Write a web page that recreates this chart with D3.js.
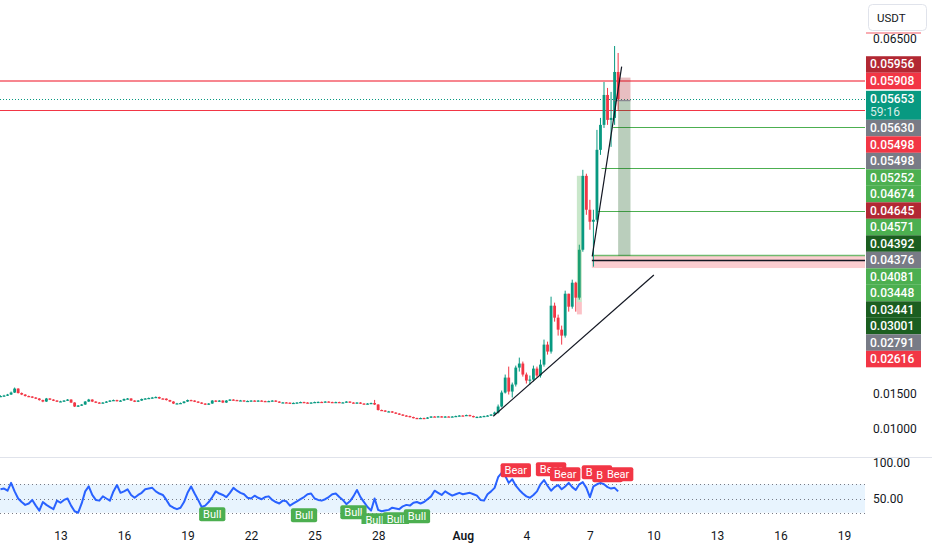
<!DOCTYPE html>
<html><head><meta charset="utf-8">
<script src="https://cdn.jsdelivr.net/npm/d3@7"></script>
<style>
body{margin:0;background:#fff;overflow:hidden}
svg{display:block;font-family:Roboto,"Noto Sans",sans-serif}
</style></head>
<body><svg id="c" width="932" height="550"></svg>
<script>
// ---------------- DATA ----------------
const candleStart = "2025-07-10T04:00:00Z";
const candleHours = 4;
const firstOpen = 0.01458;
const closes = [
.01465,.01472,.01486,.01514,.01570,.01507,.01486,.01465,.01458,.01444,
.01430,.01408,.01387,.01430,.01415,.01401,.01387,.01390,.01401,.01415,
.01373,.01317,.01331,.01345,.01387,.01415,.01387,.01373,.01366,.01373,
.01387,.01401,.01408,.01394,.01401,.01423,.01430,.01401,.01387,.01401,
.01423,.01430,.01437,.01444,.01451,.01430,.01428,.01408,.01387,.01359,
.01361,.01366,.01387,.01408,.01401,.01387,.01373,.01359,.01345,.01359,
.01401,.01387,.01401,.01373,.01401,.01415,.01408,.01401,.01403,.01394,
.01396,.01401,.01394,.01401,.01394,.01387,.01394,.01401,.01387,.01373,
.01375,.01371,.01366,.01368,.01373,.01380,.01373,.01366,.01373,.01380,
.01382,.01378,.01387,.01380,.01373,.01380,.01373,.01375,.01387,.01373,
.01366,.01373,.01359,.01352,.01359,.01366,.01345,.01268,.01261,.01246,
.01248,.01232,.01218,.01204,.01190,.01183,.01169,.01155,.01148,.01155,
.01148,.01162,.01176,.01174,.01178,.01169,.01176,.01174,.01176,.01183,
.01190,.01188,.01197,.01183,.01169,.01171,.01176,.01183,.01190,.01204,
.01232,.01317,.01514,.01725,.01528,.01627,.01866,.01923,.01768,.01683,
.01697,.01852,.01754,.01908,.02190,.02092,.02739,.02570,.02401,.02317,
.02908,.02725,.03063,.02852,.03528,.04570,.04092,.03923,.03951,.04937,
.05289,.05711,.05359,.05387,.06035,.05653];
const highs = [
.01475,.01482,.01495,.01528,.01585,.01575,.01515,.01492,.01472,.01463,
.01450,.01436,.01414,.01438,.01437,.01420,.01408,.01398,.01408,.01422,
.01420,.01378,.01338,.01352,.01394,.01425,.01420,.01392,.01380,.01380,
.01394,.01408,.01415,.01413,.01408,.01430,.01437,.01435,.01406,.01408,
.01430,.01437,.01444,.01452,.01460,.01456,.01436,.01432,.01412,.01392,
.01368,.01373,.01394,.01415,.01414,.01406,.01392,.01378,.01364,.01366,
.01408,.01406,.01408,.01406,.01408,.01422,.01420,.01413,.01410,.01408,
.01402,.01407,.01406,.01407,.01406,.01399,.01400,.01407,.01406,.01392,
.01381,.01380,.01376,.01374,.01379,.01386,.01385,.01378,.01379,.01386,
.01388,.01387,.01393,.01392,.01385,.01386,.01385,.01381,.01393,.01392,
.01378,.01379,.01378,.01364,.01365,.01372,.01410,.01350,.01274,.01266,
.01255,.01253,.01237,.01223,.01209,.01196,.01188,.01174,.01160,.01161,
.01160,.01168,.01182,.01181,.01184,.01183,.01182,.01181,.01182,.01189,
.01196,.01195,.01203,.01202,.01188,.01177,.01182,.01189,.01196,.01210,
.01245,.01345,.01542,.01768,.01880,.01655,.01894,.02007,.01951,.01796,
.01754,.01894,.01880,.01979,.02261,.02232,.02866,.02782,.02613,.02458,
.02951,.02880,.03106,.03077,.03599,.04655,.04600,.04232,.04092,.05218,
.05387,.05894,.05810,.05754,.06401,.06303];
const lows = [
.01450,.01458,.01466,.01480,.01508,.01500,.01478,.01458,.01450,.01436,
.01422,.01400,.01378,.01382,.01408,.01394,.01380,.01380,.01384,.01395,
.01366,.01310,.01310,.01325,.01340,.01382,.01380,.01366,.01360,.01360,
.01368,.01382,.01395,.01388,.01388,.01396,.01417,.01395,.01380,.01382,
.01396,.01418,.01424,.01430,.01438,.01424,.01420,.01402,.01380,.01352,
.01352,.01355,.01360,.01382,.01394,.01380,.01366,.01352,.01338,.01340,
.01354,.01380,.01382,.01366,.01368,.01396,.01402,.01395,.01396,.01388,
.01389,.01390,.01388,.01389,.01388,.01381,.01382,.01389,.01381,.01367,
.01368,.01365,.01360,.01361,.01362,.01368,.01367,.01360,.01361,.01368,
.01375,.01372,.01373,.01375,.01367,.01368,.01367,.01368,.01370,.01367,
.01360,.01361,.01353,.01346,.01347,.01353,.01338,.01260,.01254,.01240,
.01240,.01226,.01212,.01198,.01184,.01177,.01163,.01149,.01142,.01143,
.01141,.01143,.01157,.01169,.01169,.01163,.01164,.01169,.01169,.01171,
.01178,.01183,.01183,.01177,.01163,.01164,.01166,.01171,.01178,.01185,
.01198,.01218,.01303,.01500,.01486,.01444,.01599,.01810,.01739,.01641,
.01627,.01669,.01725,.01725,.01880,.02049,.02063,.02514,.02317,.02190,
.02289,.02655,.02697,.02655,.02824,.03500,.04021,.03810,.03289,.03923,
.04866,.05246,.05289,.04979,.05289,.05500];
const rsi = [
63,64,61,72,60,50,45,41,43,48,
40,33,45,41,38,35,47,44,48,50,
40,32,30,43,60,67,55,48,47,53,
50,47,60,69,58,60,63,55,51,55,
58,63,64,65,60,57,55,48,40,37,
35,37,45,58,67,57,48,38,40,45,
52,60,57,55,52,58,65,61,58,56,
51,50,54,51,49,52,53,48,45,43,
47,46,40,43,46,49,52,56,57,50,
48,47,49,52,56,57,52,48,42,46,
53,62,52,45,38,33,50,34,32,33,
34,37,36,35,39,41,40,44,45,43,
45,49,53,61,58,55,60,57,54,56,
58,56,57,58,56,54,48,47,56,60,
65,80,86,82,72,77,68,62,57,53,
51,55,60,70,76,68,61,66,69,63,
67,72,66,62,70,73,65,52,67,70,
72,70,66,64,65,60];

const priceTicks = [0.010,0.015,0.020,0.025,0.030,0.035,0.040,0.045,0.050,0.055,0.060,0.065];
const axisLabelValues = [0.05956,0.05908,0.05653,0.05630,0.05498,0.05498,0.05252,0.04674,0.04645,0.04571,0.04392,0.04376,0.04081,0.03448,0.03441,0.03001,0.02791,0.02616];
const axisLabelKinds  = ["stop","line","last","entry","line","entry","ray","ray","stop","ray","target","entry","ray","ray","target","target","entry","line"];
const countdown = "59:16";
const currency = "USDT";
const topMarkPrice = 0.06585;
const timeTicks = ["2025-07-13","2025-07-16","2025-07-19","2025-07-22","2025-07-25","2025-07-28","2025-08-01","2025-08-04","2025-08-07","2025-08-10","2025-08-13","2025-08-16","2025-08-19"];
const rsiLevels = [70,50,30];
const rsiTicks = [100,50];
const bullIdx = [60,86,100,106,112,118];
const bullAt  = [37.7,36.3,40.6,29.3,30.7,35];
const bearIdx = [146,156,160,169,172,175];
const bearAt  = [80,81.4,74.4,77.2,73,74.4];
const hLinePrices = [0.05908,0.05498];
const rayPrices = [0.05252,0.04674,0.04081];
const rayStarts = ["2025-08-08T02:20:00Z","2025-08-07T13:10:00Z","2025-08-07T09:00:00Z"];
const zoneStart = "2025-08-07T02:15:00Z";
const zonePrices = [0.03448,0.03376,0.03270]; // top line, mid line, bottom
const shortPos = {start:"2025-08-08T08:00:00Z", end:"2025-08-08T22:00:00Z", entry:0.05630, stop:0.05956, target:0.03441};
const longPos  = {start:"2025-08-06T09:15:00Z", end:"2025-08-06T14:55:00Z", entry:0.02791, stop:0.02616, target:0.04571};
const trendLines = [
  [["2025-08-02T10:30:00Z",0.01180],["2025-08-10T00:30:00Z",0.03172]],
  [["2025-08-07T02:40:00Z",0.03434],["2025-08-08T12:00:00Z",0.06110]]
];

// ---------------- LAYOUT / STYLE ----------------
const plotR = 865, mainBot = 457, rsiTop = 458, rsiBot = 524;
const C = {up:"#089981", down:"#f23645", text:"#131722", grayLbl:"#787b86",
  red:"#f23645", green:"#4caf50", darkGreen:"#1b5e20", darkRed:"#b22833"};
const kindColor = {stop:C.darkRed, line:C.red, last:C.up, entry:C.grayLbl, ray:C.green, target:C.darkGreen};

const svg = d3.select("#c");
const parse = s => new Date(s);
const x = d3.scaleUtc().domain([new Date(Date.UTC(2025,6,13)), new Date(Date.UTC(2025,7,19))]).range([60.5, 844]);
const y = d3.scaleLinear().domain([0.010, 0.065]).range([429, 39]);
const yr = d3.scaleLinear().domain([30, 70]).range([512.7, 484.3]);

const t0 = parse(candleStart).getTime();
const candles = closes.map((c,i)=>{
  const o = i===0 ? firstOpen : closes[i-1];
  return {t:new Date(t0 + i*candleHours*3600e3), o, c, h:Math.max(highs[i],o,c), l:Math.min(lows[i],o,c), r:rsi[i]};
});

const defs = svg.append("defs");
defs.append("clipPath").attr("id","mainClip").append("rect").attr("x",0).attr("y",0).attr("width",plotR).attr("height",mainBot);
defs.append("clipPath").attr("id","rsiClip").append("rect").attr("x",0).attr("y",rsiTop).attr("width",plotR).attr("height",rsiBot-rsiTop);

// ---------- main pane ----------
const main = svg.append("g").attr("clip-path","url(#mainClip)");

main.append("line").attr("x1",0).attr("x2",plotR).attr("y1",y(hLinePrices[0])).attr("y2",y(hLinePrices[0]))
  .attr("stroke",C.red).attr("stroke-opacity",0.6).attr("stroke-width",2);
main.append("line").attr("x1",0).attr("x2",plotR).attr("y1",Math.round(y(hLinePrices[1]))+0.5).attr("y2",Math.round(y(hLinePrices[1]))+0.5)
  .attr("stroke",C.red).attr("stroke-width",1);
main.append("line").attr("x1",0).attr("x2",plotR).attr("y1",Math.round(y(closes[closes.length-1]))+0.5).attr("y2",Math.round(y(closes[closes.length-1]))+0.5)
  .attr("stroke",C.up).attr("stroke-width",1).attr("stroke-dasharray","1,2");

rayPrices.forEach((p,i)=>{
  const yy = Math.round(y(p))+0.5;
  main.append("line").attr("x1",x(parse(rayStarts[i]))).attr("x2",plotR).attr("y1",yy).attr("y2",yy)
    .attr("stroke",C.green).attr("stroke-width",1);
});

const zx = x(parse(zoneStart));
main.append("rect").attr("x",zx).attr("width",plotR-zx).attr("y",y(zonePrices[0])).attr("height",y(zonePrices[2])-y(zonePrices[0]))
  .attr("fill",C.red).attr("fill-opacity",0.25);
main.append("line").attr("x1",zx).attr("x2",plotR).attr("y1",y(zonePrices[0])).attr("y2",y(zonePrices[0]))
  .attr("stroke",C.green).attr("stroke-opacity",0.8).attr("stroke-width",1.5);

// candles
const step = x(new Date(t0+candleHours*3600e3)) - x(new Date(t0));
const bw = Math.max(1, step*0.8);
const cg = main.append("g");
cg.selectAll("line.w").data(candles).join("line")
  .attr("x1",d=>x(d.t)).attr("x2",d=>x(d.t)).attr("y1",d=>y(d.h)).attr("y2",d=>y(d.l))
  .attr("stroke",d=>d.c>=d.o?C.up:C.down).attr("stroke-width",1);
cg.selectAll("rect").data(candles).join("rect")
  .attr("x",d=>x(d.t)-bw/2).attr("width",bw)
  .attr("y",d=>y(Math.max(d.o,d.c))).attr("height",d=>Math.max(1.2, Math.abs(y(d.o)-y(d.c))))
  .attr("fill",d=>d.c>=d.o?C.up:C.down);

main.append("line").attr("x1",zx).attr("x2",plotR).attr("y1",y(zonePrices[1])).attr("y2",y(zonePrices[1]))
  .attr("stroke","#131722").attr("stroke-width",1.5);

{
  const x1=x(parse(longPos.start)), x2=x(parse(longPos.end));
  main.append("rect").attr("x",x1).attr("width",x2-x1).attr("y",y(longPos.target)).attr("height",y(longPos.entry)-y(longPos.target))
    .attr("fill",C.green).attr("fill-opacity",0.3);
  main.append("rect").attr("x",x1).attr("width",x2-x1).attr("y",y(longPos.entry)).attr("height",y(longPos.stop)-y(longPos.entry))
    .attr("fill",C.red).attr("fill-opacity",0.3);
}
{
  const x1=x(parse(shortPos.start)), x2=x(parse(shortPos.end));
  main.append("rect").attr("x",x1).attr("width",x2-x1).attr("y",y(shortPos.stop)).attr("height",y(shortPos.entry)-y(shortPos.stop))
    .attr("fill",C.darkRed).attr("fill-opacity",0.3);
  main.append("rect").attr("x",x1).attr("width",x2-x1).attr("y",y(shortPos.entry)).attr("height",y(shortPos.target)-y(shortPos.entry))
    .attr("fill",C.darkGreen).attr("fill-opacity",0.3);
  main.append("line").attr("x1",x1-5).attr("x2",x2).attr("y1",y(shortPos.entry)).attr("y2",y(shortPos.entry))
    .attr("stroke",C.grayLbl).attr("stroke-width",1);
}

trendLines.forEach(tl=>{
  main.append("line").attr("x1",x(parse(tl[0][0]))).attr("y1",y(tl[0][1])).attr("x2",x(parse(tl[1][0]))).attr("y2",y(tl[1][1]))
    .attr("stroke","#131722").attr("stroke-width",1.2);
});

svg.append("line").attr("x1",0).attr("x2",932).attr("y1",mainBot+0.5).attr("y2",mainBot+0.5).attr("stroke","#e0e3eb").attr("stroke-width",1);

// ---------- RSI pane ----------
const rp = svg.append("g").attr("clip-path","url(#rsiClip)");
rp.append("rect").attr("x",0).attr("width",plotR).attr("y",yr(70)).attr("height",yr(30)-yr(70)).attr("fill","#2196f3").attr("fill-opacity",0.1);
rsiLevels.forEach(v=>{
  rp.append("line").attr("x1",0).attr("x2",plotR).attr("y1",Math.round(yr(v))+0.5).attr("y2",Math.round(yr(v))+0.5)
    .attr("stroke","#787b86").attr("stroke-width",1).attr("stroke-dasharray","1,3");
});
rp.append("path").datum(candles).attr("fill","none").attr("stroke","#2962ff").attr("stroke-width",2).attr("stroke-linejoin","round")
  .attr("d", d3.line().x(d=>x(d.t)).y(d=>yr(d.r)));

function tag(idx, v, text, color, below){
  const cx = x(candles[idx].t);
  const g = rp.append("g");
  const t = g.append("text").attr("x",cx).attr("text-anchor","middle").attr("font-size",11).attr("fill","#fff").text(text);
  const w = t.node().getComputedTextLength()+8, h = 14;
  const top = below ? yr(v) : yr(v)-h;
  g.insert("rect","text").attr("x",cx-w/2).attr("y",top).attr("width",w).attr("height",h).attr("rx",2).attr("fill",color);
  t.attr("y",top+h/2).attr("dominant-baseline","central");
}
bullIdx.forEach((ix,i)=>tag(ix,bullAt[i],"Bull",C.green,true));
bearIdx.forEach((ix,i)=>tag(ix,bearAt[i],"Bear",C.red,false));

// ---------- price axis labels (stacked) ----------
const LH = 16.5, LH2 = 29;
const labels = axisLabelValues.map((v,i)=>({v, kind:axisLabelKinds[i], h: axisLabelKinds[i]==="last"?LH2:LH}));
const ai = labels.findIndex(d=>d.kind==="last");
labels[ai].top = y(labels[ai].v) - LH/2;
let limit = labels[ai].top;
for(let i=ai-1;i>=0;i--){ let c = Math.min(y(labels[i].v), limit - labels[i].h/2); labels[i].top = c - labels[i].h/2; limit = labels[i].top; }
limit = labels[ai].top + labels[ai].h;
for(let i=ai+1;i<labels.length;i++){ let c = Math.max(y(labels[i].v), limit + labels[i].h/2); labels[i].top = c - labels[i].h/2; limit = labels[i].top + labels[i].h; }

const fmt = d3.format(".5f");
const visTicks = priceTicks.filter(p=>{ const yy=y(p); return yy>30 && yy<mainBot-8 && !labels.some(l=>yy>l.top-6 && yy<l.top+l.h+6); });
const pa = svg.append("g").attr("transform",`translate(${plotR},0)`)
  .call(d3.axisRight(y).tickValues(visTicks).tickFormat(fmt).tickSize(0).tickPadding(8));
pa.select(".domain").remove();
pa.selectAll("text").attr("font-size",12).attr("fill",C.text).attr("font-family","Roboto,'Noto Sans',sans-serif");

const lg = svg.append("g");
labels.forEach(l=>{
  lg.append("rect").attr("x",plotR+1).attr("y",l.top).attr("width",55).attr("height",l.h).attr("fill",kindColor[l.kind]);
  lg.append("text").attr("x",plotR+5).attr("y",l.top+LH/2).attr("dominant-baseline","central")
    .attr("font-size",12).attr("font-weight",500).attr("fill","#fff").text(fmt(l.v));
  if(l.kind==="last"){
    lg.append("text").attr("x",plotR+5).attr("y",l.top+LH/2+13).attr("dominant-baseline","central")
      .attr("font-size",12).attr("fill","#fff").attr("fill-opacity",0.85).text(countdown);
  }
});
svg.append("line").attr("x1",plotR+1).attr("x2",plotR+56).attr("y1",y(topMarkPrice)).attr("y2",y(topMarkPrice))
  .attr("stroke",C.red).attr("stroke-opacity",0.55).attr("stroke-width",1.5);

svg.append("rect").attr("x",868.5).attr("y",4.5).attr("width",58).attr("height",26).attr("rx",4)
  .attr("fill","#fff").attr("stroke","#e0e3eb");
svg.append("text").attr("x",877).attr("y",18).attr("dominant-baseline","central").attr("font-size",11.5).attr("fill",C.text).text(currency);

const ra = svg.append("g").attr("transform",`translate(${plotR},0)`)
  .call(d3.axisRight(yr).tickValues(rsiTicks).tickFormat(d3.format(".2f")).tickSize(0).tickPadding(8));
ra.select(".domain").remove();
ra.selectAll("text").attr("font-size",12).attr("fill",C.text).attr("font-family","Roboto,'Noto Sans',sans-serif");

const tdates = timeTicks.map(s=>new Date(s+"T00:00:00Z"));
const monthFmt = d3.utcFormat("%b"), dayFmt = d3.utcFormat("%-d");
const ta = svg.append("g").attr("transform","translate(0,531)")
  .call(d3.axisBottom(x).tickValues(tdates).tickFormat(d=>d.getUTCDate()===1?monthFmt(d):dayFmt(d)).tickSize(0).tickPadding(0));
ta.select(".domain").remove();
ta.selectAll("text").attr("font-size",12).attr("fill",C.text).attr("font-family","Roboto,'Noto Sans',sans-serif")
  .attr("font-weight",d=>d.getUTCDate()===1?600:400);
</script></body></html>
